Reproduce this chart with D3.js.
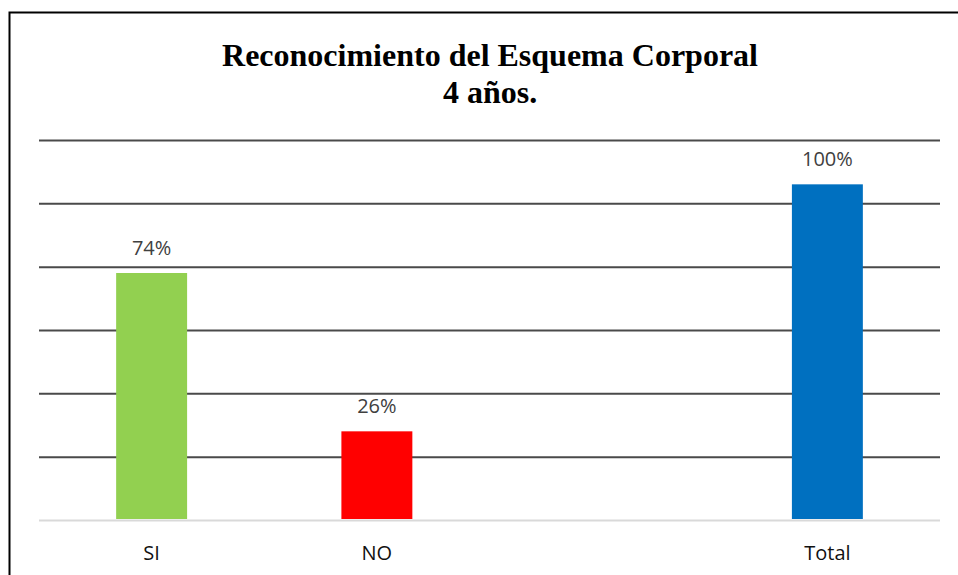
<!DOCTYPE html>
<html>
<head>
<meta charset="utf-8">
<script src="https://cdn.jsdelivr.net/npm/d3@7"></script>
<style>
  html, body { margin: 0; padding: 0; background: #fff; }
  svg { display: block; }
</style>
</head>
<body>
<svg id="chart" width="958" height="575"></svg>
<script>
// ---- data ----
const categories = ["SI", "NO", "", "Total"];
const counts = [39, 14, null, 53];
const percentLabels = ["74%", "26%", "", "100%"];
const barColors = ["#92D050", "#FF0000", "#FFFFFF", "#0070C0"];
const yTicks = [0, 10, 20, 30, 40, 50, 60];
const titleLines = ["Reconocimiento del Esquema Corporal", "4 años."];

(function () {
const svg = d3.select("#chart");

// frame
svg.append("rect")
  .attr("x", 9.5).attr("y", 12.5)
  .attr("width", 1000).attr("height", 1000)
  .attr("fill", "none").attr("stroke", "#000").attr("stroke-width", 2);

// title
const title = svg.append("text")
  .attr("x", 490).attr("y", 66)
  .attr("text-anchor", "middle")
  .attr("font-family", "'Liberation Serif', 'Times New Roman', serif")
  .attr("font-weight", "bold")
  .attr("font-size", 32)
  .attr("fill", "#000");
title.selectAll("tspan").data(titleLines).join("tspan")
  .attr("x", 490)
  .attr("dy", (d, i) => i === 0 ? 0 : 37)
  .text(d => d);

const pLeft = 39, pRight = 940, pTop = 140, pBottom = 520;

const x = d3.scaleBand()
  .domain(categories)
  .range([pLeft, pRight])
  .paddingInner(0.685)
  .paddingOuter(0.3425);

const y = d3.scaleLinear()
  .domain([0, 60])
  .range([pBottom, pTop]);

// gridlines
const yAxis = d3.axisLeft(y)
  .tickValues(yTicks)
  .tickSize(-(pRight - pLeft))
  .tickFormat("");
const gy = svg.append("g")
  .attr("transform", `translate(${pLeft},0)`)
  .call(yAxis);
gy.select(".domain").remove();
gy.selectAll(".tick line")
  .attr("stroke", d => d === 0 ? "#d9d9d9" : "#4a4a4a")
  .attr("stroke-width", 2);

// bars
const data = categories.map((c, i) => ({ c, v: counts[i], label: percentLabels[i], color: barColors[i] }))
  .filter(d => d.v != null);

svg.append("g").selectAll("rect").data(data).join("rect")
  .attr("x", d => x(d.c))
  .attr("y", d => y(d.v))
  .attr("width", x.bandwidth())
  .attr("height", d => y(0) - y(d.v) - 1)
  .attr("fill", d => d.color);

// data labels
svg.append("g").selectAll("text").data(data).join("text")
  .attr("x", d => x(d.c) + x.bandwidth() / 2)
  .attr("y", d => y(d.v) - 18)
  .attr("text-anchor", "middle")
  .attr("font-family", "'Open Sans', 'Noto Sans', sans-serif")
  .attr("font-size", 20)
  .attr("fill", "#404040")
  .text(d => d.label);

// x axis labels
const xAxis = d3.axisBottom(x).tickSize(0).tickPadding(0);
const gx = svg.append("g")
  .attr("transform", `translate(0,${pBottom})`)
  .call(xAxis);
gx.select(".domain").remove();
gx.selectAll(".tick text")
  .attr("dy", 0)
  .attr("y", 40)
  .attr("font-family", "'Open Sans', 'Noto Sans', sans-serif")
  .attr("font-size", 20)
  .attr("fill", "#111");
})();
</script>
</body>
</html>
